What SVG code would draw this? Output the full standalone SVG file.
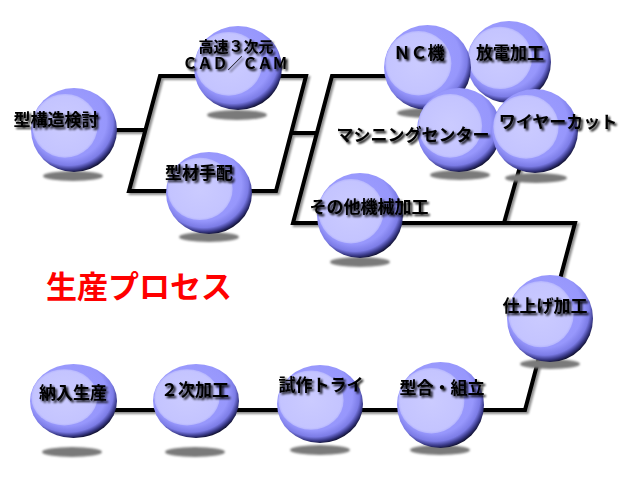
<svg xmlns="http://www.w3.org/2000/svg" width="640" height="480" viewBox="0 0 640 480">
<defs>
<radialGradient id="gBall" cx="0.45" cy="0.42" r="0.6" fx="0.38" fy="0.32">
<stop offset="0" stop-color="#a0a0ff"/>
<stop offset="0.74" stop-color="#9797fc"/>
<stop offset="0.86" stop-color="#7c7ce6"/>
<stop offset="0.93" stop-color="#3a3a8a"/>
<stop offset="1" stop-color="#05051a"/>
</radialGradient>
<radialGradient id="gHi" cx="0.5" cy="0.5" r="0.5">
<stop offset="0" stop-color="#cbcbff"/>
<stop offset="0.93" stop-color="#c4c4ff"/>
<stop offset="1" stop-color="#b6b6fd"/>
</radialGradient>
<filter id="fBlur" x="-20%" y="-100%" width="140%" height="300%">
<feGaussianBlur stdDeviation="1"/>
</filter>
<filter id="fText" x="-10%" y="-40%" width="130%" height="190%">
<feGaussianBlur in="SourceAlpha" stdDeviation="1.3" result="b"/>
<feOffset in="b" dx="2" dy="2" result="o"/>
<feComponentTransfer in="o" result="s"><feFuncA type="linear" slope="0.95"/></feComponentTransfer>
<feMerge><feMergeNode in="s"/><feMergeNode in="SourceGraphic"/></feMerge>
</filter>
<filter id="fLine" x="-5%" y="-5%" width="110%" height="110%">
<feOffset in="SourceAlpha" dx="1.5" dy="1.5" result="o"/>
<feGaussianBlur in="o" stdDeviation="0.8" result="b"/>
<feComponentTransfer in="b" result="s"><feFuncA type="linear" slope="0.45"/></feComponentTransfer>
<feMerge><feMergeNode in="s"/><feMergeNode in="SourceGraphic"/></feMerge>
</filter>
<symbol id="ball" viewBox="0 0 100 100" preserveAspectRatio="none">
<circle cx="50" cy="50" r="50" fill="url(#gBall)"/>
<circle cx="39.5" cy="45" r="38" fill="url(#gHi)"/>
</symbol>
</defs>
<style>
.conn{fill:none;stroke:#000;stroke-width:4;stroke-linejoin:miter}
.sh{fill:#7a7a7a;filter:url(#fBlur)}
.lbl{font-family:"Noto Sans CJK JP","Noto Sans CJK SC",sans-serif;font-size:17px;font-weight:bold;fill:#000;text-anchor:middle;filter:url(#fText)}
.small{font-size:15px}
.title{font-family:"Noto Sans CJK JP","Noto Sans CJK SC",sans-serif;font-size:31px;font-weight:bold;fill:#ff0000}
</style>
<rect width="640" height="480" fill="#fff"/>
<g id="connectors" filter="url(#fLine)">
<path class="conn" d="M74,130 H146"/>
<path class="conn" d="M160,76 H306 L276,191 H129 Z"/>
<path class="conn" d="M291,133 H317"/>
<path class="conn" d="M427,76 H332 L293,223 H575 L525,410 H74"/>
<path class="conn" d="M504,223 L530,131"/>
</g>
<g id="n-katakozo">
<ellipse class="sh" cx="73" cy="176" rx="30" ry="5"/>
<use href="#ball" x="31" y="88" width="86" height="84"/>
<text class="lbl" x="56" y="126">型構造検討</text>
</g>
<g id="n-cad">
<ellipse class="sh" cx="237" cy="115" rx="30" ry="5"/>
<use href="#ball" x="194" y="26" width="88" height="84"/>
<text class="lbl small"><tspan x="236" y="52">高速３次元</tspan><tspan x="235" y="69">ＣＡＤ／ＣＡＭ</tspan></text>
</g>
<g id="n-kazai">
<ellipse class="sh" cx="209" cy="237" rx="30" ry="5"/>
<use href="#ball" x="166" y="152" width="86" height="82"/>
<text class="lbl" x="199" y="179">型材手配</text>
</g>
<g id="n-hoden">
<use href="#ball" x="467" y="21" width="84" height="82"/>
<text class="lbl" x="510" y="59">放電加工</text>
</g>
<g id="n-nc">
<ellipse class="sh" cx="427" cy="113" rx="30" ry="5"/>
<use href="#ball" x="384" y="25" width="87" height="85"/>
<text class="lbl" x="419" y="59">ＮＣ機</text>
</g>
<g id="n-machining">
<ellipse class="sh" cx="460" cy="175" rx="30" ry="5"/>
<use href="#ball" x="417" y="88" width="84" height="84"/>
<text class="lbl" x="413" y="141">マシニングセンター</text>
</g>
<g id="n-wire">
<ellipse class="sh" cx="536" cy="178" rx="31" ry="5"/>
<use href="#ball" x="492" y="89" width="86" height="84"/>
<text class="lbl" x="558" y="128">ワイヤーカット</text>
</g>
<g id="n-sonota">
<ellipse class="sh" cx="360" cy="262" rx="30" ry="5"/>
<use href="#ball" x="317" y="173" width="86" height="85"/>
<text class="lbl" x="369" y="213">その他機械加工</text>
</g>
<g id="n-shiage">
<ellipse class="sh" cx="550" cy="364" rx="30" ry="5"/>
<use href="#ball" x="507" y="275" width="86" height="87"/>
<text class="lbl" x="545" y="312">仕上げ加工</text>
</g>
<g id="n-kumitate">
<ellipse class="sh" cx="440" cy="450" rx="30" ry="5"/>
<use href="#ball" x="397" y="362" width="87" height="86"/>
<text class="lbl" x="442" y="394">型合・組立</text>
</g>
<g id="n-shisaku">
<ellipse class="sh" cx="320" cy="450" rx="30" ry="5"/>
<use href="#ball" x="277" y="365" width="86" height="78"/>
<text class="lbl" x="321" y="391">試作トライ</text>
</g>
<g id="n-niji">
<ellipse class="sh" cx="195" cy="452" rx="30" ry="5"/>
<use href="#ball" x="153" y="364" width="86" height="74"/>
<text class="lbl" x="195" y="396">２次加工</text>
</g>
<g id="n-nonyu">
<ellipse class="sh" cx="72" cy="452" rx="30" ry="5"/>
<use href="#ball" x="30" y="364" width="87" height="74"/>
<text class="lbl" x="73" y="399">納入生産</text>
</g>
<g id="title">
<text class="title" x="46" y="298">生産プロセス</text>
</g>
</svg>
